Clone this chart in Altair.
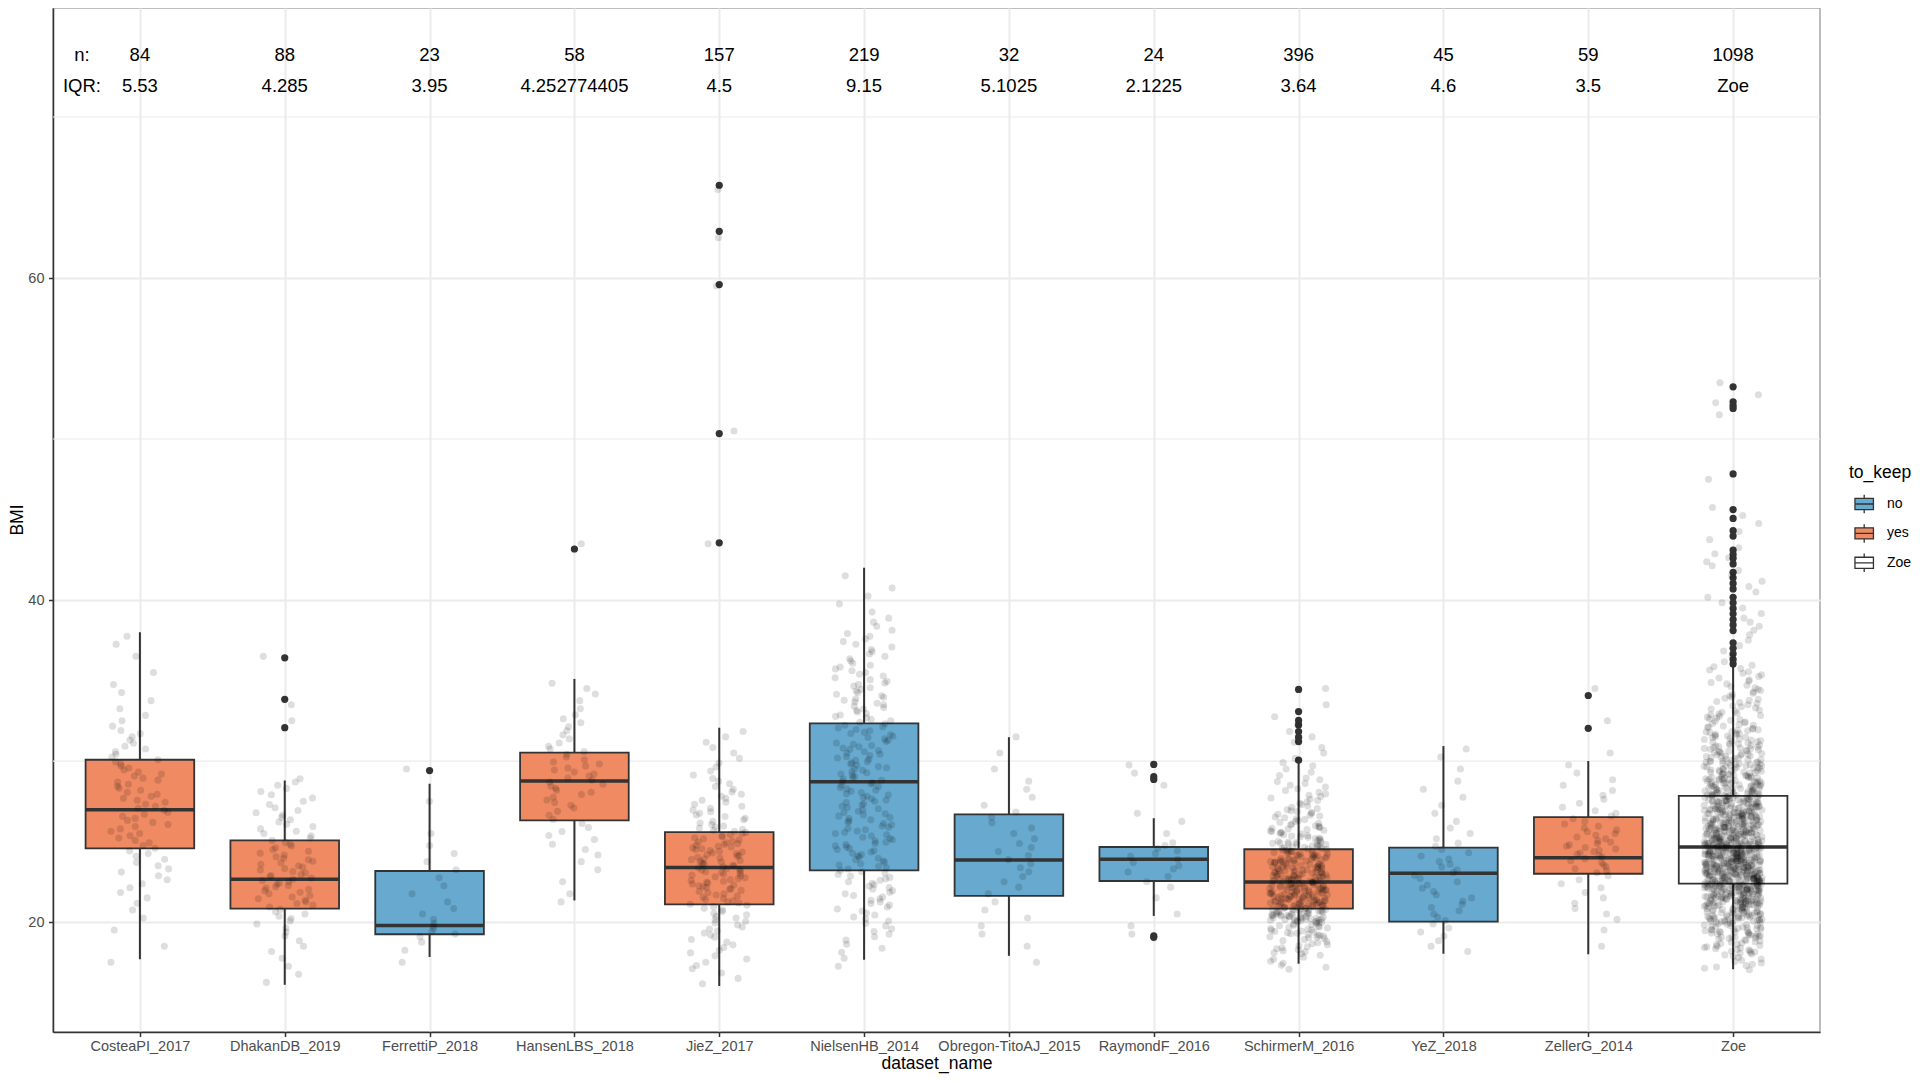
import json
import altair as alt
import pandas as pd

# ---------------- data ----------------
DATASETS = ["CosteaPI_2017", "DhakanDB_2019", "FerrettiP_2018", "HansenLBS_2018",
            "JieZ_2017", "NielsenHB_2014", "Obregon-TitoAJ_2015", "RaymondF_2016",
            "SchirmerM_2016", "YeZ_2018", "ZellerG_2014", "Zoe"]
TO_KEEP = ["yes", "yes", "no", "yes", "yes", "no", "no", "no", "yes", "no", "yes", "Zoe"]
N_LABELS = ["84", "88", "23", "58", "157", "219", "32", "24", "396", "45", "59", "1098"]
IQR_LABELS = ["5.53", "4.285", "3.95", "4.252774405", "4.5", "9.15", "5.1025",
              "2.1225", "3.64", "4.6", "3.5", "Zoe"]

WHISKER_LOW = [17.69, 16.10, 17.83, 21.34, 16.03, 17.66, 17.90, 20.38, 17.41, 18.03, 18.00, 17.07]
Q1 = [24.57, 20.83, 19.24, 26.31, 21.10, 23.21, 21.62, 22.55, 20.83, 20.03, 23.00, 22.38]
MEDIAN = [26.97, 22.66, 19.79, 28.76, 23.38, 28.72, 23.86, 23.90, 22.48, 23.03, 24.00, 24.66]
Q3 = [30.08, 25.07, 23.17, 30.52, 25.59, 32.34, 26.69, 24.66, 24.52, 24.62, 26.52, 27.83]
WHISKER_HIGH = [38.00, 28.79, 28.59, 35.10, 32.07, 42.00, 31.48, 26.45, 29.90, 30.93, 30.00, 35.86]

OUT_DHAKAN = [36.41, 33.83, 32.07]
OUT_FERRETTI = [29.41]
OUT_HANSEN = [43.17]
OUT_JIEZ = [65.76, 62.90, 59.59, 50.34, 43.55]
OUT_RAYMOND = [29.79, 29.03, 28.86, 19.14, 19.05]
OUT_SCHIRMER = [34.45, 33.07, 32.52, 32.24, 31.83, 31.48, 31.21, 30.05]
OUT_ZELLER = [34.07, 32.03]
OUT_ZOE = [53.24, 52.31, 52.07, 51.90, 47.83, 45.62, 45.07, 44.31, 43.97, 43.10,
           42.83, 42.59, 42.24, 41.72, 41.38, 41.03, 40.69, 40.17, 39.83, 39.48,
           39.14, 38.79, 38.45, 38.10, 37.34, 37.00, 36.66, 36.31, 36.03]
OUTLIERS = [[], OUT_DHAKAN, OUT_FERRETTI, OUT_HANSEN, OUT_JIEZ, [], [], OUT_RAYMOND,
            OUT_SCHIRMER, [], OUT_ZELLER, OUT_ZOE]

# estimated number of jittered samples per 1-unit BMI bin
BINS_COSTEA = {17: 1, 18: 1, 19: 1, 20: 2, 21: 3, 22: 4, 23: 5, 24: 6, 25: 7, 26: 8, 27: 8,
               28: 8, 29: 8, 30: 6, 31: 5, 32: 3, 33: 2, 34: 2, 35: 1, 36: 1, 37: 2}
BINS_DHAKAN = {16: 2, 17: 2, 18: 3, 19: 4, 20: 7, 21: 10, 22: 13, 23: 11, 24: 9, 25: 7,
               26: 7, 27: 5, 28: 5, 32: 1, 33: 1, 36: 1}
BINS_FERRETTI = {17: 1, 18: 2, 19: 6, 20: 3, 21: 2, 22: 2, 23: 2, 24: 2, 25: 1, 27: 1, 29: 1}
BINS_HANSEN = {21: 2, 22: 1, 23: 2, 24: 3, 25: 4, 26: 4, 27: 6, 28: 8, 29: 8, 30: 6, 31: 4,
               32: 4, 33: 2, 34: 3, 43: 1}
BINS_JIEZ = {16: 3, 17: 5, 18: 6, 19: 8, 20: 10, 21: 14, 22: 18, 23: 20, 24: 19, 25: 15,
             26: 10, 27: 8, 28: 6, 29: 4, 30: 3, 31: 3, 43: 1, 50: 1, 59: 1, 62: 1, 65: 1}
BINS_NIELSEN = {17: 2, 18: 4, 19: 6, 20: 8, 21: 10, 22: 11, 23: 12, 24: 13, 25: 13, 26: 13,
                27: 13, 28: 13, 29: 13, 30: 13, 31: 12, 32: 11, 33: 11, 34: 10, 35: 9,
                36: 7, 37: 6, 38: 4, 39: 2, 40: 2, 41: 1}
BINS_OBREGON = {17: 1, 18: 1, 19: 2, 20: 2, 21: 2, 22: 3, 23: 4, 24: 4, 25: 3, 26: 3, 27: 2,
                28: 2, 29: 1, 30: 1, 31: 1}
BINS_RAYMOND = {19: 2, 20: 1, 21: 1, 22: 3, 23: 5, 24: 6, 25: 1, 26: 2, 28: 1, 29: 2}
BINS_SCHIRMER = {17: 8, 18: 16, 19: 28, 20: 57, 21: 60, 22: 58, 23: 50, 24: 40, 25: 25,
                 26: 18, 27: 12, 28: 9, 29: 5, 30: 3, 31: 3, 32: 2, 33: 1, 34: 1}
BINS_YEZ = {18: 3, 19: 4, 20: 5, 21: 5, 22: 5, 23: 6, 24: 5, 25: 3, 26: 2, 27: 2, 28: 2,
            29: 1, 30: 2}
BINS_ZELLER = {18: 1, 19: 1, 20: 3, 21: 3, 22: 4, 23: 8, 24: 12, 25: 9, 26: 6, 27: 4, 28: 3,
               29: 2, 30: 1, 32: 1, 34: 1}
BINS_ZOE = {17: 12, 18: 25, 19: 40, 20: 60, 21: 90, 22: 120, 23: 120, 24: 120, 25: 95,
            26: 85, 27: 75, 28: 57, 29: 45, 30: 35, 31: 28, 32: 20, 33: 15, 34: 12, 35: 10,
            36: 3, 37: 3, 38: 4, 39: 3, 40: 3, 41: 3, 42: 4, 43: 2, 44: 2, 45: 2, 47: 1,
            51: 1, 52: 2, 53: 1}
BINS = [BINS_COSTEA, BINS_DHAKAN, BINS_FERRETTI, BINS_HANSEN, BINS_JIEZ, BINS_NIELSEN,
        BINS_OBREGON, BINS_RAYMOND, BINS_SCHIRMER, BINS_YEZ, BINS_ZELLER, BINS_ZOE]

KEEP_LEVELS = ["no", "yes", "Zoe"]
KEEP_COLORS = ["#67A9CF", "#EF8A62", "#FFFFFF"]
Y_BREAKS = [20, 40, 60]
Y_MINOR = [30, 50, 70]

# ---------------- tables ----------------
box_df = pd.DataFrame({"idx": list(range(len(DATASETS))), "dataset": DATASETS,
                       "to_keep": TO_KEEP, "lo": WHISKER_LOW, "q1": Q1, "med": MEDIAN,
                       "q3": Q3, "hi": WHISKER_HIGH})
out_df = pd.DataFrame([{"idx": i, "bmi": v} for i, vals in enumerate(OUTLIERS) for v in vals])
jit_rows = []
for i, bins in enumerate(BINS):
    j = 0
    for b in sorted(bins):
        c = bins[b]
        for k in range(c):
            jit_rows.append({"idx": i, "j": j, "bmi": b + (k + 0.5) / c})
            j += 1
jit_df = pd.DataFrame(jit_rows)
ann_df = pd.DataFrame({"idx": list(range(len(DATASETS))), "n": N_LABELS, "iqr": IQR_LABELS})
one_df = pd.DataFrame({"a": [0]})

# ---------------- chart ----------------
W, H = 1767, 1024
FONT = "Liberation Sans"
DARK = "#333333"
xs = alt.Scale(domain=[-0.6, 11.6], nice=False, zero=False)
ys = alt.Scale(domain=[13.17, 76.77], nice=False, zero=False)

x_axis = alt.Axis(values=list(range(12)),
                  labelExpr=json.dumps(DATASETS) + "[round(datum.value)]",
                  title="dataset_name", grid=True, gridColor="#EBEBEB", gridWidth=2,
                  labelOverlap=False, labelFlush=False, labelPadding=3,
                  titleY=31.5, titleBaseline="middle")
y_axis = alt.Axis(values=Y_BREAKS, title="BMI", grid=True, gridColor="#EBEBEB",
                  gridWidth=2, labelPadding=4.5, titleAngle=270, titleX=-36,
                  titleY=511.5, titleAlign="center", titleBaseline="middle")


def X(field=None, datum=None):
    if datum is not None:
        return alt.X(datum=datum, scale=xs, axis=x_axis)
    return alt.X(field, scale=xs, axis=x_axis)


def Y(field=None, datum=None):
    if datum is not None:
        return alt.Y(datum=datum, scale=ys, axis=y_axis)
    return alt.Y(field, scale=ys, axis=y_axis)


GLYPH = ("M-0.88,-0.53H0.88V0.53H-0.88Z M0,-0.53V-0.88 M0,0.53V0.88 "
         "M-0.88,0H0.88")

minor = alt.Chart(pd.DataFrame({"v": Y_MINOR})).mark_rule(
    color="#EBEBEB", strokeWidth=1.2).encode(
    y=Y("v:Q"), x=alt.value(0), x2=alt.value(W))

base_box = alt.Chart(box_df).transform_calculate(
    xl="datum.idx - 0.375", xr="datum.idx + 0.375")

whiskers = base_box.mark_rule(color=DARK, strokeWidth=2).encode(
    x=X("idx:Q"), y=Y("lo:Q"), y2="hi:Q")

boxes = base_box.mark_bar(stroke=DARK, strokeWidth=1.8).encode(
    x=X("xl:Q"), x2="xr:Q", y=Y("q1:Q"), y2="q3:Q",
    color=alt.Color("to_keep:N",
                    scale=alt.Scale(domain=KEEP_LEVELS, range=KEEP_COLORS),
                    legend=alt.Legend(title="to_keep", orient="none", legendX=1796,
                                      legendY=455.5, symbolType=GLYPH, symbolSize=441,
                                      symbolStrokeColor=DARK, symbolStrokeWidth=1.3,
                                      symbolOffset=3.7, labelOffset=11.3, rowPadding=4.4,
                                      titlePadding=11.5, padding=0, titleFont=FONT,
                                      titleFontSize=17.5, titleFontWeight="normal",
                                      titleColor="black", labelFont=FONT,
                                      labelFontSize=14, labelColor="black")))

medians = base_box.mark_rule(color=DARK, strokeWidth=3.5).encode(
    x=X("xl:Q"), x2="xr:Q", y=Y("med:Q"))

outliers = alt.Chart(out_df).mark_circle(color=DARK, opacity=1, size=52).encode(
    x=X("idx:Q"), y=Y("bmi:Q"))

jitter = alt.Chart(jit_df).transform_calculate(
    h="sin(datum.j * 12.9898 + datum.idx * 78.233) * 43758.5453"
).transform_calculate(
    xj="datum.idx + (((datum.h % 1) + 1) % 1 - 0.5) * 0.4"
).mark_circle(color="black", opacity=0.13, size=50).encode(
    x=X("xj:Q"), y=Y("bmi:Q"))

txt = dict(font=FONT, fontSize=18.5, color="black", baseline="middle", align="center")
n_text = alt.Chart(ann_df).mark_text(**txt).encode(
    x=X("idx:Q"), y=Y(datum=73.85), text="n:N")
iqr_text = alt.Chart(ann_df).mark_text(**txt).encode(
    x=X("idx:Q"), y=Y(datum=71.93), text="iqr:N")
n_lab = alt.Chart(one_df).mark_text(text="n:", **txt).encode(
    x=X(datum=-0.4), y=Y(datum=73.85))
iqr_lab = alt.Chart(one_df).mark_text(text="IQR:", **txt).encode(
    x=X(datum=-0.4), y=Y(datum=71.93))

chart = alt.layer(minor, whiskers, boxes, medians, outliers, jitter,
                  n_text, iqr_text, n_lab, iqr_lab).properties(
    width=W, height=H,
    padding={"left": 45, "top": 0, "right": 92, "bottom": 42},
    autosize=alt.AutoSizeParams(type="none"),
    background="white",
).configure_view(
    stroke="#A8A8A8", strokeWidth=1.5
).configure_axis(
    labelFont=FONT, labelFontSize=14.5, labelColor="#4D4D4D",
    titleFont=FONT, titleFontSize=17.5, titleFontWeight="normal", titleColor="black",
    domainColor=DARK, domainWidth=1.5, tickColor=DARK, tickWidth=1.5, tickSize=4.5,
)

chart.save("out.html", embed_options={"renderer": "svg", "actions": False})
